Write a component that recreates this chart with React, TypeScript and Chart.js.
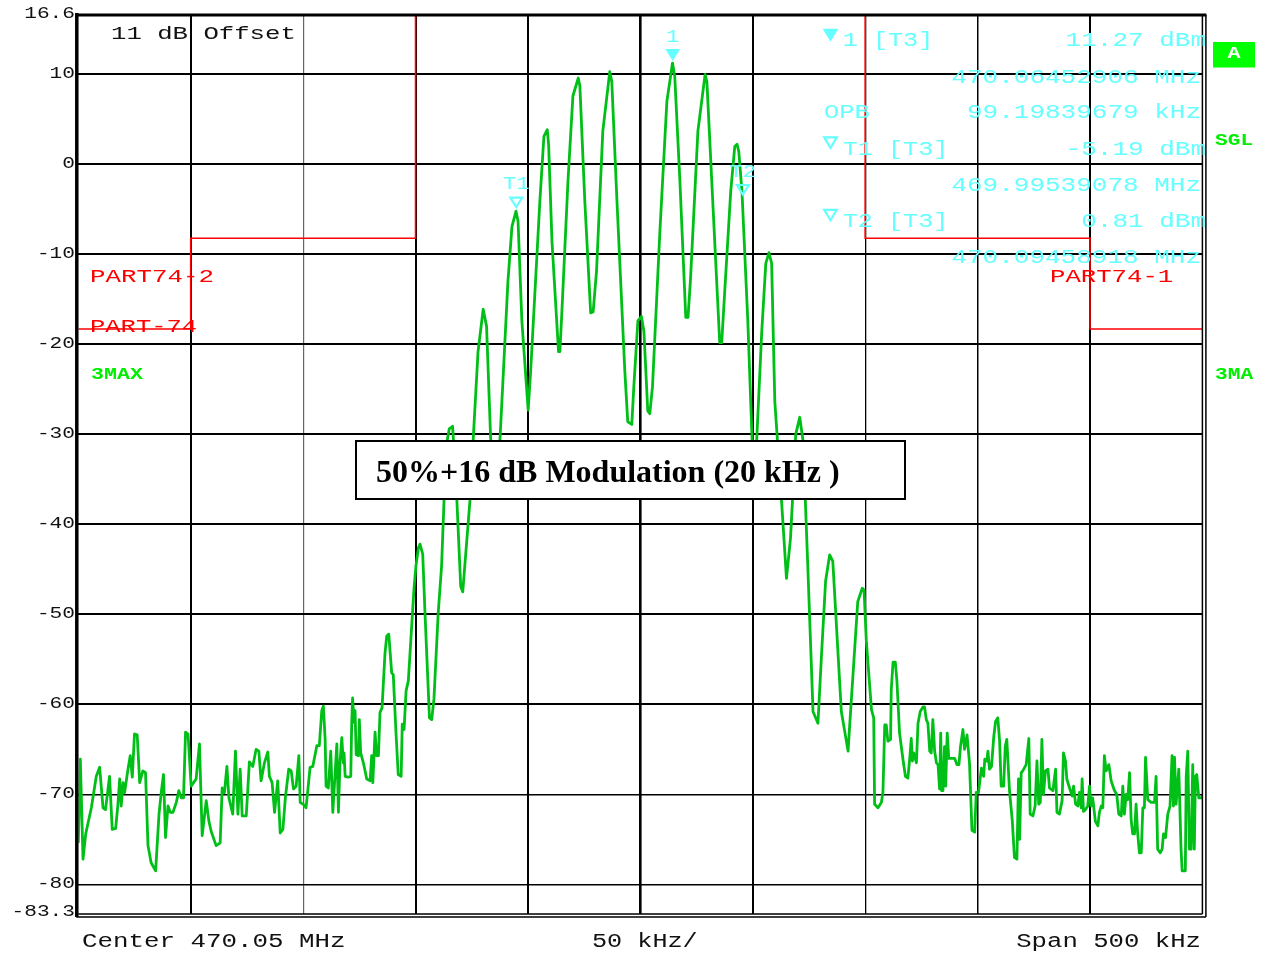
import React, { useEffect, useRef } from "react";
import { Chart, registerables } from "chart.js";

Chart.register(...registerables);

// ---- axis settings (kHz offset from centre, dBm) ----
const X_MIN = -250;
const X_MAX = 250;
const Y_MIN = -83.3;
const Y_MAX = 16.6;
const yGridValues = [10, 0, -10, -20, -30, -40, -50, -60, -70, -80];
const yTickValues = [16.6, 10, 0, -10, -20, -30, -40, -50, -60, -70, -80, -83.3];
const yTickLabels = ["16.6", "10", "0", "-10", "-20", "-30", "-40", "-50", "-60", "-70", "-80", "-83.3"];
const bottomLabels = ["Center 470.05 MHz", "50 kHz/", "Span 500 kHz"];

// ---- trace segments: [kHz offset, dBm] ----
const leftNoise: [number, number][] = [
  [-250, -75.4], [-249.1, -66.1], [-247.9, -77.2], [-246.7, -74.4], [-244.2, -71.5], [-242, -68], [-240.5, -67],
  [-239, -71.5], [-237.9, -71.7], [-236.1, -68], [-234.9, -73.9], [-233.4, -73.8], [-232.4, -71.2], [-231.6, -68.3],
  [-230.9, -71.3], [-230.1, -68.7], [-229.4, -69.8], [-227.9, -67.2], [-226.9, -65.7], [-226, -68.1], [-225, -63.3],
  [-223.8, -63.4], [-222.7, -68.7], [-221.3, -67.4], [-220.1, -67.6], [-219, -75.7], [-217.6, -77.6], [-215.6, -78.5],
  [-214.1, -72.2], [-213.1, -69.8], [-212.1, -67.8], [-211.2, -74.8], [-210.1, -71.3], [-209.1, -72], [-207.9, -72],
  [-206.4, -70.9], [-205.3, -69.6], [-204.2, -70.4], [-203.2, -70.4], [-202.3, -63.1], [-201.2, -63.3], [-199.8, -69.1],
  [-197.6, -68.3], [-196.1, -64.4], [-194.9, -74.6], [-193.1, -70.7], [-191.9, -73], [-190.9, -74.1], [-188.7, -75.7],
  [-186.9, -75.4], [-186, -69.3], [-185, -69.8], [-183.9, -66.9], [-183, -70.4], [-181.3, -72.2], [-180.1, -65.2],
  [-179, -72.2], [-178, -67.2], [-177.1, -72.4], [-175.3, -72.4], [-173.9, -66.4], [-172.4, -66.9], [-170.9, -65],
  [-169.7, -65.2], [-168.7, -68.5], [-167.2, -66.5], [-165.7, -65.3], [-165, -68], [-163.8, -68.7], [-162.7, -72],
  [-161.3, -68.5], [-160.2, -74.3], [-159, -73.9], [-157.9, -70.4], [-156.4, -67.2], [-155.3, -67.4], [-154.3, -69.4],
  [-153.1, -69.1], [-151.9, -65.7], [-151.3, -70.9], [-149.5, -71.2], [-148.7, -71.5],
];

const leftSkirt: [number, number][] = [
  [-146.9, -67], [-145.7, -66.9], [-143.9, -64.6], [-142.8, -64.6], [-141.7, -60.7], [-141, -60.2], [-140.2, -63.9],
  [-139.8, -69.1], [-138.8, -69.3], [-137.7, -65.2], [-136.8, -72], [-135, -64.4], [-134.3, -72], [-133.6, -66.5],
  [-132.8, -63.7], [-132.1, -66.5], [-131.8, -65.4], [-131.3, -68], [-129.9, -68.1], [-128.8, -68], [-128.4, -62.2],
  [-128, -59.3], [-127.3, -62], [-126.9, -60.7], [-126.4, -65.6], [-125.4, -65.7], [-125, -61.7], [-124.4, -65.4],
  [-123.2, -66.5], [-121.7, -68.3], [-120.2, -68.5], [-119.5, -65.7], [-119, -68.7], [-118, -63.1], [-117.3, -65.7],
  [-116.5, -65.7], [-115.8, -60.9], [-114.9, -60.4], [-113.6, -54.4], [-112.8, -52.4], [-111.9, -52.2], [-110.6, -56.5],
  [-109.9, -56.7], [-108.7, -63.1], [-107.7, -67.8], [-106.4, -68], [-105.9, -62.2], [-105.1, -62.8], [-104.2, -58.5],
  [-103.2, -57.4], [-100.7, -47.2], [-99.8, -44.6], [-98.7, -42.6], [-98, -42.2], [-96.8, -43.3], [-95.8, -49.8],
  [-93.8, -61.5], [-92.8, -61.7], [-91.8, -59.4], [-89.9, -49.8], [-88.4, -44.6], [-87.3, -37.2], [-86, -30.8],
  [-85, -29.4], [-83.5, -29.1], [-81.6, -37.4], [-79.9, -46.9], [-79, -47.5], [-75.8, -37.4], [-74.4, -30.8],
  [-72.2, -20.8], [-69.9, -16.1], [-68.4, -18], [-66.6, -30.4], [-64.7, -36], [-62.4, -30.4],
];

const mainLobes: [number, number][] = [
  [-58.9, -13], [-57.1, -6.9], [-55.3, -5.2], [-54.4, -6.3], [-52.7, -17.4], [-49.9, -27.3], [-48.8, -23],
  [-44.7, -4.1], [-42.9, 3.1], [-41.4, 3.85], [-40.8, 2.2], [-39.3, -8.6], [-36.4, -20.8], [-35.8, -20.8],
  [-35, -16.9], [-32.2, -1.9], [-30, 7.6], [-27.6, 9.6], [-26.9, 8.7], [-24.7, -4.1], [-22.1, -16.5], [-21, -16.4],
  [-19.5, -11.9], [-16.7, 3.7], [-13.6, 10.3], [-12.7, 9.2], [-10.4, -4.1], [-6.9, -23], [-5.6, -28.6],
  [-3.8, -28.9], [-2.9, -24.7], [-1.1, -17.4], [0.5, -16.9], [1.6, -18.6], [3.3, -27.4], [4.2, -27.7],
  [5.4, -24.7], [8.7, -7.4], [11.8, 7], [14.3, 11.26], [15.3, 9.8], [17.6, -1.9], [20.2, -17], [21.2, -17],
  [22.3, -12.8], [25.6, 3.7], [28.8, 10], [29.6, 9.2], [32.2, -4.1], [35.3, -19.8], [36.2, -19.8], [37.3, -15.1],
  [40.2, -3], [42, 2], [43, 2.25], [43.8, 1.4], [45.2, -3], [47.8, -17.4], [49.7, -30.6], [50.6, -34.7],
  [51.8, -30.4], [54, -18.6], [55.8, -11], [57.2, -9.8], [58.4, -11], [59.8, -26.3],
];

const rightSkirt: [number, number][] = [
  [62.8, -37.4], [65, -46], [66.8, -41.5], [67.7, -37.2], [69.1, -30], [70.9, -28.1], [72.4, -30.8], [74.4, -44.1],
  [76.8, -60.8], [79, -62.1], [80.5, -54.9], [82.4, -46.3], [84.2, -43.4], [85.6, -44.1], [89.4, -60.8],
  [92.4, -65.2], [93.1, -62.4], [96.7, -48.6], [98.7, -47.1], [99.5, -47.3], [100.5, -52.9], [102.8, -60.6],
  [103.8, -61.5], [104.2, -71.1], [105.7, -71.5], [107.2, -70.9], [107.9, -69.8], [108.7, -62.3], [109.4, -62.3],
  [110.1, -64.1], [111.3, -63.9], [111.6, -58.4], [112.4, -55.3], [113.4, -55.3], [114.1, -57.3], [115.3, -63.2],
  [116.8, -66.1], [117.9, -68], [119, -68.2], [119.8, -66.1], [120.5, -63.8], [121, -66.3], [121.6, -65.4],
  [122.8, -66.5], [123.5, -62.1], [124.5, -60.8], [125.7, -60.3], [126.4, -60.3], [127.2, -61.7], [127.9, -62.1],
  [128.7, -65.2], [129.4, -65.4], [130.1, -61.7], [130.9, -65.2], [131.7, -66.5], [132.4, -66.7], [133.1, -69.4],
  [133.6, -63.2], [134, -69.6], [134.6, -69.6], [135.3, -64.7], [135.8, -69.1], [136.5, -63.2], [137.2, -66],
  [138.3, -66], [139.8, -66], [140.8, -66.7], [141.7, -66.7], [142.4, -64.7], [143.5, -62.8], [144.2, -65],
  [145.3, -63.4], [146.4, -66.5], [147.5, -74], [148.7, -74.2], [149.4, -69.8],
];

const rightNoise: [number, number][] = [
  [150.4, -69.8], [151.7, -67.1], [152.7, -68], [153.2, -66.1], [154.1, -66.3], [154.6, -65.2], [155.3, -67.2],
  [156.2, -66.9], [157.2, -63.6], [158, -61.9], [159, -61.5], [159.8, -64.1], [160.5, -69.1], [161.6, -69.1],
  [162.3, -64.7], [163, -63.9], [164.2, -69.6], [165.4, -72.8], [166.4, -77], [167.5, -77.2], [168.2, -68.3],
  [168.7, -75], [169.4, -67.6], [170.1, -67.4], [171.6, -66.7], [172.8, -63.8], [173.4, -72.2], [174.6, -72.4],
  [175.6, -71.3], [176.4, -66.3], [177.2, -71.1], [177.9, -70.9], [178.6, -63.9], [179.3, -70], [180.2, -67.4],
  [181.3, -67.2], [182, -69.3], [183.5, -69.6], [184.7, -67.2], [185.3, -72], [186.4, -72.2], [187.6, -70.7],
  [188.2, -65.4], [189.1, -66.3], [189.7, -68.3], [190.9, -69.3], [192.1, -70.2], [192.7, -69.1], [193.6, -71.1],
  [194.6, -71.3], [195.3, -69.8], [196.1, -71.5], [196.5, -68.3], [197.1, -71.9], [198, -71.7], [199, -71.3],
  [199.8, -69.1], [200.5, -71.3], [201.2, -70.4], [202.4, -73], [203.5, -73.5], [204.2, -72], [205, -71.3],
  [205.7, -71.5], [206.4, -65.7], [207.2, -67.4], [208.4, -66.7], [209.4, -68.5], [210.9, -69.6], [211.9, -70],
  [212.8, -72.2], [213.9, -72.4], [214.6, -69.1], [215.3, -72.2], [216.1, -70], [216.8, -70.6], [217.6, -67.6],
  [218.3, -72.8], [219, -74.4], [219.8, -74.4], [220.5, -71.1], [221.2, -74.3], [222, -76.5], [222.8, -76.5],
  [223.5, -71.5], [224.2, -71.5], [224.7, -65.9], [225.3, -68.7], [225.7, -70.6], [227.2, -70.9], [228.7, -70.9],
  [229.4, -68], [230.1, -76.1], [231.2, -76.5], [232.1, -76.1], [232.7, -74.4], [233.6, -74.8], [234.6, -72.2],
  [235.6, -71.3], [236.5, -65.7], [237.1, -71.3], [237.6, -65.9], [238.3, -71.1], [239.5, -67.2], [240.5, -76.1],
  [241, -78.5], [242.4, -78.5], [242.8, -68], [243.5, -65.2], [244.2, -76.1], [245, -76.1], [245.7, -66.7],
  [246.4, -76.1], [246.9, -68], [247.5, -67.8], [248.4, -70.4], [249.5, -70.4], [250, -70.2],
];

// ---- PART 74 limit masks ----
const maskLeft: [number, number][] = [[-250, -18.3], [-200, -18.3], [-200, -8.2], [-100, -8.2], [-100, 16.6]];
const maskRight: [number, number][] = [[100, 16.6], [100, -8.2], [200, -8.2], [200, -18.3], [250, -18.3]];

// ---- markers ----
const markerLabels = ["1", "T1", "T2"];
const markerFreq = [14.4, -55.2, 45.6];
const markerLevel = [11.5, -4.9, -3.5];
const markerFilled = [true, false, false];

// ---- marker readout ----
const readoutLeft = ["1 [T3]", "OPB", "T1 [T3]", "T2 [T3]"];
const readoutValues = ["11.27 dBm", "470.06452906 MHz", "99.19839679 kHz", "-5.19 dBm", "469.99539078 MHz", "0.81 dBm", "470.09458918 MHz"];

const titleText = "50%+16 dB Modulation (20 kHz )";

const MONO = '"Liberation Mono", "DejaVu Sans Mono", monospace';
const CYAN = "#66ffff";
const RED = "#ff0000";
const GREEN_TXT = "#00ee00";

function txt(
  ctx: CanvasRenderingContext2D,
  s: string,
  x: number,
  y: number,
  size: number,
  color: string,
  align: CanvasTextAlign,
  charW: number,
  weight = "normal"
) {
  ctx.save();
  ctx.font = `${weight} ${size}px ${MONO}`;
  const w = ctx.measureText(s).width || 1;
  const sx = (charW * s.length) / w;
  ctx.translate(x, y);
  ctx.scale(sx, 1);
  ctx.textAlign = align;
  ctx.textBaseline = "middle";
  ctx.fillStyle = color;
  ctx.fillText(s, 0, 0);
  ctx.restore();
}

function tri(ctx: CanvasRenderingContext2D, cx: number, tipY: number, w: number, h: number, filled: boolean) {
  ctx.save();
  ctx.beginPath();
  ctx.moveTo(cx - w / 2, tipY - h);
  ctx.lineTo(cx + w / 2, tipY - h);
  ctx.lineTo(cx, tipY);
  ctx.closePath();
  if (filled) {
    ctx.fillStyle = CYAN;
    ctx.fill();
  } else {
    ctx.strokeStyle = CYAN;
    ctx.lineWidth = 2.2;
    ctx.lineJoin = "miter";
    ctx.beginPath();
    ctx.moveTo(cx - w / 2 + 1.5, tipY - h + 1.1);
    ctx.lineTo(cx + w / 2 - 1.5, tipY - h + 1.1);
    ctx.lineTo(cx, tipY - 1.5);
    ctx.closePath();
    ctx.stroke();
  }
  ctx.restore();
}

const decorPlugin = {
  id: "analyzerDecor",
  afterDatasetsDraw(chart: any) {
    const ctx: CanvasRenderingContext2D = chart.ctx;
    const a = chart.chartArea;
    const xs = chart.scales.x;
    const ys = chart.scales.y;

    // frame
    ctx.save();
    ctx.strokeStyle = "#000";
    ctx.lineWidth = 3.5;
    ctx.beginPath();
    ctx.moveTo(a.left - 1.5, a.top - 2);
    ctx.lineTo(a.left - 1.5, a.bottom + 3);
    ctx.stroke();
    ctx.lineWidth = 3;
    ctx.beginPath();
    ctx.moveTo(a.left - 2, a.top);
    ctx.lineTo(a.right + 4, a.top);
    ctx.stroke();
    ctx.lineWidth = 1.5;
    ctx.beginPath();
    ctx.moveTo(a.right, a.top);
    ctx.lineTo(a.right, a.bottom);
    ctx.moveTo(a.right + 3.5, a.top);
    ctx.lineTo(a.right + 3.5, a.bottom + 3);
    ctx.moveTo(a.left, a.bottom);
    ctx.lineTo(a.right, a.bottom);
    ctx.moveTo(a.left - 2, a.bottom + 3);
    ctx.lineTo(a.right + 3.5, a.bottom + 3);
    ctx.stroke();
    ctx.restore();

    // title box
    ctx.save();
    ctx.fillStyle = "#fff";
    ctx.fillRect(356, 441, 549, 58);
    ctx.strokeStyle = "#000";
    ctx.lineWidth = 2;
    ctx.strokeRect(356, 441, 549, 58);
    ctx.font = 'bold 32px "Liberation Serif", "Times New Roman", serif';
    ctx.fillStyle = "#000";
    ctx.textAlign = "left";
    ctx.textBaseline = "alphabetic";
    ctx.fillText(titleText, 376, 482);
    ctx.restore();

    // y tick labels
    yTickValues.forEach((v, i) => {
      const py = ys.getPixelForValue(v);
      const off = i === yTickValues.length - 1 ? -3 : i === 0 ? -1.5 : -1;
      txt(ctx, yTickLabels[i], 75, py + off, 17, "#111", "right", 12.7);
    });

    // bottom labels
    txt(ctx, bottomLabels[0], 82, 942, 20, "#111", "left", 15.5);
    txt(ctx, bottomLabels[1], 592, 942, 20, "#111", "left", 15.1);
    txt(ctx, bottomLabels[2], 1201, 942, 20, "#111", "right", 15.4);

    // top-left offset text
    txt(ctx, "11 dB Offset", 111, 34, 19, "#111", "left", 15.4);

    // red mask labels
    txt(ctx, "PART74-2", 90, 277, 19, RED, "left", 15.5);
    txt(ctx, "PART-74", 90, 327, 19, RED, "left", 15.3);
    txt(ctx, "PART74-1", 1050, 277, 19, RED, "left", 15.4);

    // green status labels
    txt(ctx, "3MAX", 91, 375, 16, GREEN_TXT, "left", 13, "bold");
    txt(ctx, "3MA", 1215, 375, 16, GREEN_TXT, "left", 12.7, "bold");
    txt(ctx, "SGL", 1215, 141, 16, GREEN_TXT, "left", 12.7, "bold");
    ctx.save();
    ctx.fillStyle = "#00ff00";
    ctx.fillRect(1213, 42, 42, 25.5);
    ctx.restore();
    txt(ctx, "A", 1234, 54, 16, "#fff", "center", 13, "bold");

    // markers on trace
    markerFreq.forEach((f, i) => {
      const px = xs.getPixelForValue(f);
      const py = ys.getPixelForValue(markerLevel[i]);
      tri(ctx, px, py, 15, 12, markerFilled[i]);
      txt(ctx, markerLabels[i], px, py - 24, 18, CYAN, "center", 13.3);
    });

    // readout block
    tri(ctx, 830.5, 41.7, 15.6, 13, true);
    tri(ctx, 830.5, 149.3, 15.6, 13, false);
    tri(ctx, 830.5, 221.7, 15.6, 13, false);
    txt(ctx, readoutLeft[0], 842.7, 40.7, 20, CYAN, "left", 15.1);
    txt(ctx, readoutLeft[1], 824, 112.7, 20, CYAN, "left", 15.3);
    txt(ctx, readoutLeft[2], 842.7, 149.3, 20, CYAN, "left", 15.1);
    txt(ctx, readoutLeft[3], 842.7, 221.7, 20, CYAN, "left", 15.1);
    const rows = [40.7, 77.3, 112.7, 149.3, 185.7, 221.7, 257.7];
    readoutValues.forEach((s, i) => {
      const isDbm = s.endsWith("dBm");
      txt(ctx, s, isDbm ? 1206 : 1201, rows[i], 20, CYAN, "right", 15.6);
    });
  },
};

const toXY = (arr: [number, number][]) => arr.map(([x, y]) => ({ x, y }));

export default function App() {
  const canvasRef = useRef<HTMLCanvasElement | null>(null);

  useEffect(() => {
    if (!canvasRef.current) return;
    const trace = [...leftNoise, ...leftSkirt, ...mainLobes, ...rightSkirt, ...rightNoise];
    const vThick: Record<string, number> = { "-150": 1.2, "100": 1.3, "150": 1.5, "0": 2.6 };
    const chart = new Chart(canvasRef.current, {
      type: "line",
      data: {
        datasets: [
          {
            data: toXY(trace),
            borderColor: "rgb(0,192,24)",
            borderWidth: 2.8,
            borderJoinStyle: "round",
            pointRadius: 0,
            tension: 0,
            order: 1,
          },
          {
            data: toXY(maskLeft),
            borderColor: RED,
            borderWidth: 1.6,
            pointRadius: 0,
            tension: 0,
            order: 2,
          },
          {
            data: toXY(maskRight),
            borderColor: RED,
            borderWidth: 1.6,
            pointRadius: 0,
            tension: 0,
            order: 2,
          },
        ],
      },
      options: {
        animation: false,
        responsive: false,
        maintainAspectRatio: false,
        parsing: false,
        normalized: true,
        layout: { padding: { left: 78.3, right: 65.6, top: 15, bottom: 42 } },
        plugins: { legend: { display: false }, tooltip: { enabled: false }, title: { display: false } },
        scales: {
          x: {
            type: "linear",
            min: X_MIN,
            max: X_MAX,
            ticks: { display: false, stepSize: 50 },
            border: { display: false },
            grid: {
              drawTicks: false,
              color: (c: any) => (Math.abs(c.tick?.value) >= 250 ? "rgba(0,0,0,0)" : c.tick?.value === -150 ? "#666" : "#000"),
              lineWidth: (c: any) => vThick[String(c.tick?.value)] ?? 2,
            },
          },
          y: {
            type: "linear",
            min: Y_MIN,
            max: Y_MAX,
            afterBuildTicks: (s: any) => {
              s.ticks = yGridValues.map((v) => ({ value: v }));
            },
            ticks: { display: false },
            border: { display: false },
            grid: {
              drawTicks: false,
              color: "#000",
              lineWidth: (c: any) => (c.tick?.value <= -70 ? 1.6 : 2),
            },
          },
        },
      } as any,
      plugins: [decorPlugin],
    });
    return () => chart.destroy();
  }, []);

  return (
    <div style={{ position: "absolute", left: 0, top: 0, width: 1268, height: 956, background: "#fff" }}>
      <canvas ref={canvasRef} width={1268} height={956} style={{ display: "block", width: 1268, height: 956 }} />
    </div>
  );
}
